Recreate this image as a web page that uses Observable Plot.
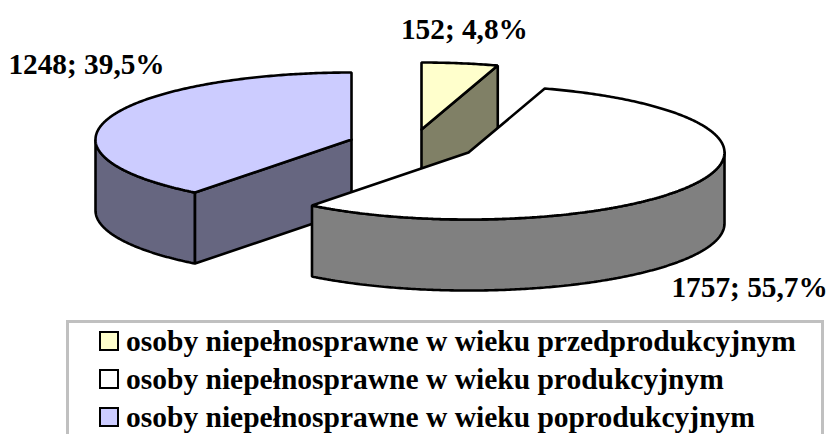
<!DOCTYPE html>
<html><head><meta charset="utf-8">
<script src="https://cdn.jsdelivr.net/npm/d3@7"></script>
<script src="https://cdn.jsdelivr.net/npm/@observablehq/plot@0.6"></script>
<style>
html,body{margin:0;padding:0;background:#fff;overflow:hidden;width:828px;height:434px}
svg{display:block}
#legend{position:absolute;left:66px;top:320px;width:752px;height:114px;border:3px solid #c0c0c0;border-bottom:none;box-sizing:content-box;
 font:bold 29.5px "Liberation Serif",serif;color:#000}
.row{position:absolute;left:30px;display:flex;align-items:center;height:38px;white-space:nowrap}
.sw{width:16px;height:16px;border:2.5px solid #000;margin-right:7px}
</style></head><body>
<div id="chart"></div>
<div id="legend"></div>
<script>
const categories = [
  "osoby niepełnosprawne w wieku przedprodukcyjnym",
  "osoby niepełnosprawne w wieku produkcyjnym",
  "osoby niepełnosprawne w wieku poprodukcyjnym"
];
const values = [152, 1757, 1248];
const topColors = ["#FFFFCC", "#FFFFFF", "#CCCCFF"];
const sideColors = ["#808066", "#808080", "#666680"];
const explodeX = [-0.1836, 0, -0.457];
const explodeY = [0.343, 0, 0.194];
const labelX = [-0.016, 1.098, -1.492];
const labelY = [1.836, -2.015, 1.313];
const depth = 1.06;

const total = d3.sum(values);
const arcs = d3.pie().sort(null).value(d => d)(values);
const pt = (i, a, drop = 0) => ({x: explodeX[i] + Math.sin(a), y: explodeY[i] + Math.cos(a) - drop});
const centre = (i, drop = 0) => ({x: explodeX[i], y: explodeY[i] - drop});
const arcPts = (i, a0, a1, drop = 0) => {
  const n = Math.max(1, Math.ceil(Math.abs(a1 - a0) / 0.01));
  return d3.range(n + 1).map(k => pt(i, a0 + (a1 - a0) * k / n, drop));
};

const polys = [];
const add = (id, fill, pts) => {
  [...pts, pts[0]].forEach(p => polys.push({...p, id, fill}));
};
// paint order: blue slice, yellow slice, white slice
[2, 0, 1].forEach(i => {
  const {startAngle: s, endAngle: e} = arcs[i];
  const wallA = Math.max(s, Math.PI / 2), wallB = Math.min(e, 3 * Math.PI / 2);
  if (wallB > wallA) {
    add(`wall${i}`, sideColors[i], [...arcPts(i, wallA, wallB), ...arcPts(i, wallB, wallA, depth)]);
  }
  // visible cut face
  if (i === 2) add(`cut${i}`, sideColors[i], [centre(i), pt(i, s), pt(i, s, depth), centre(i, depth)]);
  if (i === 0) add(`cut${i}`, sideColors[i], [centre(i), pt(i, e), pt(i, e, depth), centre(i, depth)]);
  add(`top${i}`, topColors[i], [centre(i), ...arcPts(i, s, e)]);
});

const labels = values.map((v, i) => ({
  text: `${v}; ${(v / total * 100).toFixed(1).replace(".", ",")}%`,
  x: labelX[i], y: labelY[i]
}));

const plot = Plot.plot({
  width: 828, height: 312, margin: 0,
  x: {domain: [-1, 1], range: [212, 724], axis: null},
  y: {domain: [-1, 1], range: [219, 85], axis: null},
  color: {type: "identity"},
  marks: [
    Plot.line(polys, {x: "x", y: "y", z: "id", fill: "fill", stroke: "#000", strokeWidth: 2.6, strokeLinejoin: "miter", curve: "linear"}),
    Plot.text(labels, {x: "x", y: "y", text: "text", fontFamily: "Liberation Serif", fontWeight: "bold", fontSize: 29.3, fill: "#000"})
  ]
});
document.getElementById("chart").append(plot);

const legend = document.getElementById("legend");
categories.forEach((c, i) => {
  const r = document.createElement("div");
  r.className = "row";
  r.style.top = (-1 + i * 38) + "px";
  const s = document.createElement("span");
  s.className = "sw"; s.style.background = topColors[i];
  const t = document.createElement("span");
  t.textContent = c;
  r.append(s, t);
  legend.append(r);
});
</script>
</body></html>
